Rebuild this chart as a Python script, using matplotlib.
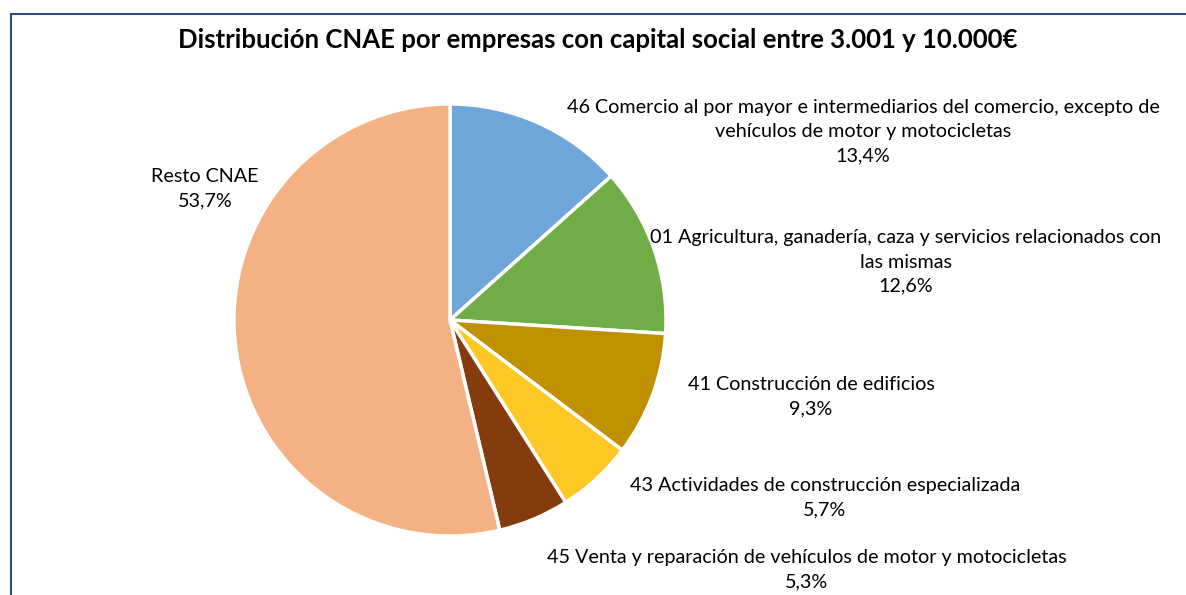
import matplotlib.pyplot as plt
from matplotlib.patches import Rectangle

# --- data ---
labels = [
    '46 Comercio al por mayor e intermediarios del comercio, excepto de\nvehículos de motor y motocicletas',
    '01 Agricultura, ganadería, caza y servicios relacionados con\nlas mismas',
    '41 Construcción de edificios',
    '43 Actividades de construcción especializada',
    '45 Venta y reparación de vehículos de motor y motocicletas',
    'Resto CNAE',
]
values = [13.4, 12.6, 9.3, 5.7, 5.3, 53.7]
colors = ['#6FA6D9', '#70AD47', '#BF9000', '#FFC825', '#843C0C', '#F4B183']
title = 'Distribución CNAE por empresas con capital social entre 3.001 y 10.000€'

# label anchor points in pixels (layout only)
label_px = [(863, 132), (906, 262), (811, 397), (825, 498), (807, 570), (205, 189)]

plt.rcParams['font.family'] = ['Lato', 'DejaVu Sans']

W, H = 1186, 595
fig = plt.figure(figsize=(W / 100, H / 100), dpi=100)
ax = fig.add_axes([0, 0, 1, 1])
cx, cy, r = 450, 320, 216

ax.pie(values, colors=colors, startangle=90, counterclock=False, radius=1,
       wedgeprops=dict(edgecolor='white', linewidth=2.5))

# pie() resets limits, so set them afterwards
ax.set_xlim(-cx / r, (W - cx) / r)
ax.set_ylim(-(H - cy) / r, cy / r)
ax.set_aspect('equal')
ax.axis('off')

for lab, v, (px, py) in zip(labels, values, label_px):
    txt = lab + '\n' + f'{v:.1f}'.replace('.', ',') + '%'
    ax.text((px - cx) / r, (cy - py) / r, txt, ha='center', va='center',
            fontsize=14.2, color='black', linespacing=1.5)

fig.text(598 / W, 1 - 40 / H, title, ha='center', va='center',
         fontsize=18.5, fontweight='bold', color='black')

# chart frame
fig.patches.append(Rectangle((11 / W, -0.1), 1.2, 1 - 14 / H + 0.1,
                             transform=fig.transFigure, fill=False,
                             edgecolor='#2F4A7C', linewidth=1.5))

plt.savefig('out.png', dpi=100)
